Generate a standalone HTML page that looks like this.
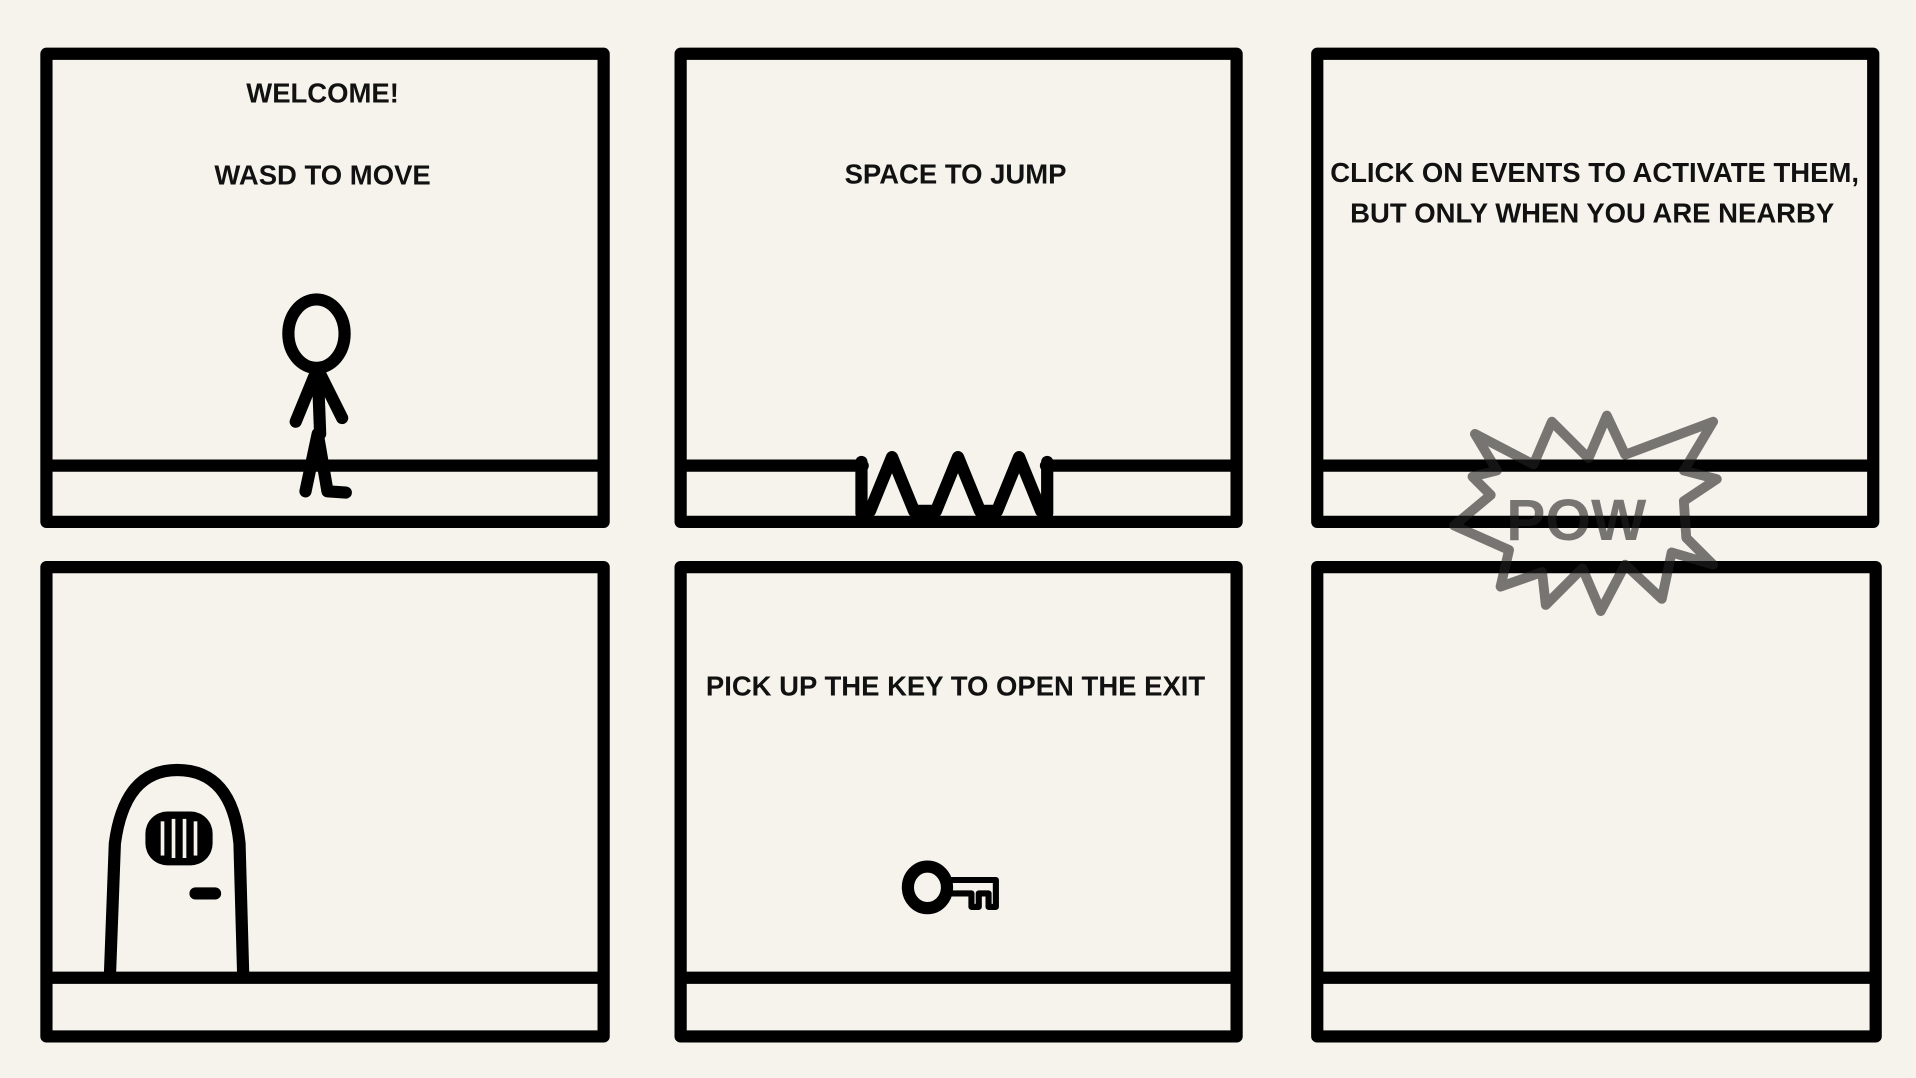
<!DOCTYPE html>
<html><head><meta charset="utf-8"><style>
html,body{margin:0;padding:0;background:#f5f3ec;}
svg{display:block}
text{font-family:"Liberation Sans",sans-serif;font-weight:bold;fill:#111;text-anchor:middle}
</style></head><body>
<svg width="1916" height="1078" viewBox="0 0 1568 882" preserveAspectRatio="none">
<rect width="1568" height="882" fill="#f5f3ec"/>
<g fill="none" stroke="#000" stroke-width="10" stroke-linejoin="round" stroke-linecap="round">
<rect x="38" y="44" width="456" height="383"/>
<line x1="40" y1="381" x2="492" y2="381"/>
<rect x="557" y="44" width="455" height="383"/>
<line x1="559" y1="381" x2="706" y2="381"/>
<line x1="856" y1="381" x2="1010" y2="381"/>
<rect x="1078" y="44" width="455" height="383"/>
<line x1="1080" y1="381" x2="1531" y2="381"/>
<rect x="38" y="464" width="456" height="384"/>
<line x1="40" y1="800" x2="492" y2="800"/>
<rect x="557" y="464" width="455" height="384"/>
<line x1="559" y1="800" x2="1010" y2="800"/>
<rect x="1078" y="464" width="457" height="384"/>
<line x1="1080" y1="800" x2="1533" y2="800"/>
<ellipse cx="259" cy="273" rx="23" ry="28"/>
<line x1="260" y1="302" x2="262" y2="355"/>
<polyline points="242,345 258,306 262,306 280,342"/>
<polyline points="250,402 260,355 268,402 283,403"/>
<line x1="705" y1="378" x2="705" y2="420"/>
<line x1="857" y1="378" x2="857" y2="420"/>
<polyline points="712,418 730,374 748,418 766,418 784,374 802,418 816,418 834,374 852,418"/>
<path d="M90,797 L94,690 Q102,630 145,630 Q190,630 196,690 L199,797"/>
<line x1="160" y1="731" x2="176" y2="731"/>
<ellipse cx="759" cy="726" rx="16" ry="17"/>
</g>
<g stroke="#000" stroke-width="5" fill="none" stroke-linejoin="round">
<path d="M775,720 L815,720 L815,742 L809,742 L809,731 L801,731 L801,742 L795,742 L795,731 L776,731"/>
</g>
<rect x="119" y="664" width="55" height="44" rx="18" fill="#000"/>
<g stroke="#f5f3ec" stroke-width="3">
<line x1="133" y1="672" x2="133" y2="700"/><line x1="142" y1="670" x2="142" y2="702"/><line x1="151" y1="670" x2="151" y2="702"/><line x1="160" y1="672" x2="160" y2="700"/>
</g>
<text x="264" y="84" font-size="22.5">WELCOME!</text>
<text x="264" y="151" font-size="22.5">WASD TO MOVE</text>
<text x="782" y="150" font-size="22.5">SPACE TO JUMP</text>
<text x="1305" y="149" font-size="22.5">CLICK ON EVENTS TO ACTIVATE THEM,</text>
<text x="1303" y="182" font-size="22.5">BUT ONLY WHEN YOU ARE NEARBY</text>
<text x="782" y="569" font-size="22.5">PICK UP THE KEY TO OPEN THE EXIT</text>
<g opacity="0.6">
<polygon points="1207,355 1255,380 1270,345 1300,375 1315,340 1330,372 1402,345 1378,385 1405,392 1378,410 1380,440 1402,462 1368,452 1360,490 1330,462 1310,500 1295,465 1265,495 1262,468 1228,480 1235,450 1190,430 1220,405 1205,390 1225,385" fill="none" stroke="#222" stroke-width="8" stroke-linejoin="round"/>
<text x="1290" y="442" font-size="48" style="fill:#222;font-weight:900">POW</text>
</g>
</svg>
</body></html>
